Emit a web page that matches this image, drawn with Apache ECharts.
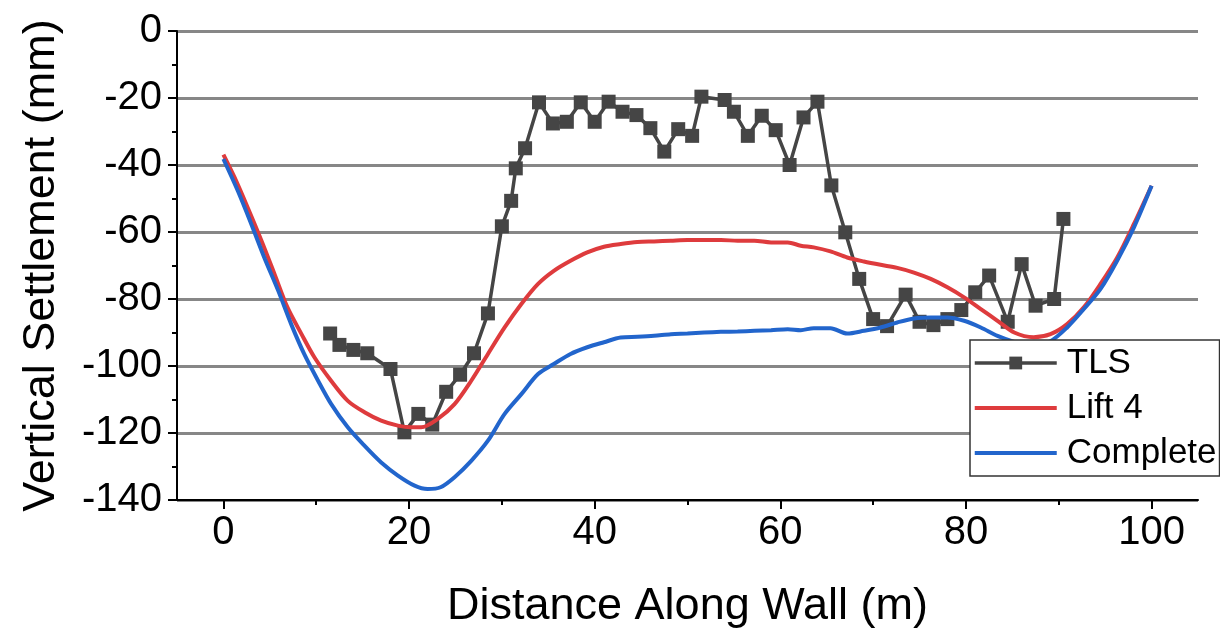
<!DOCTYPE html>
<html>
<head>
<meta charset="utf-8">
<title>Vertical Settlement Along Wall</title>
<script src="https://cdn.jsdelivr.net/npm/echarts@6/dist/echarts.min.js"></script>
<style>
  html, body { margin: 0; padding: 0; background: #ffffff; }
  #chart { width: 1220px; height: 641px; }
</style>
</head>
<body>
<div id="chart"></div>
<script>
// Distance along wall (m) and vertical settlement (mm)
const distTLS = [11.5, 12.5, 14.0, 15.5, 18.0, 19.5, 21.0, 22.5, 24.0, 25.5, 27.0, 28.5,
  30.0, 31.0, 31.5, 32.5, 34.0, 35.5, 37.0, 38.5, 40.0, 41.5, 43.0, 44.5, 46.0, 47.5,
  49.0, 50.5, 51.5, 54.0, 55.0, 56.5, 58.0, 59.5, 61.0, 62.5, 64.0, 65.5, 67.0, 68.5,
  70.0, 71.5, 73.5, 75.0, 76.5, 78.0, 79.5, 81.0, 82.5, 84.5, 86.0, 87.5, 89.5, 90.5];
const settleTLS = [-90.3, -93.7, -95.2, -96.2, -100.9, -119.8, -114.3, -117.5, -107.7, -102.6, -96.2, -84.3,
  -58.3, -50.7, -41.0, -35.0, -21.3, -27.6, -27.1, -21.3, -27.1, -21.1, -24.1, -25.1, -29.0, -36.0,
  -29.3, -31.3, -19.6, -20.6, -24.1, -31.3, -25.3, -29.6, -40.0, -25.8, -21.1, -46.1, -60.1, -74.0,
  -86.0, -88.1, -78.7, -86.8, -87.8, -86.0, -83.3, -78.0, -73.0, -86.8, -69.6, -82.0, -80.0, -56.1];

const distLift4 = [0, 1.2, 2.6, 4.1, 5.5, 6.9, 8.4, 9.8, 11.6, 13.4, 15.2, 17.0, 18.8, 20.2,
  21.3, 23.1, 24.9, 26.7, 28.5, 30.3, 32.1, 33.9, 35.6, 37.4, 39.2, 41.0, 42.8, 44.6,
  46.4, 48.2, 50.0, 51.8, 53.6, 55.4, 57.2, 59.0, 60.8, 62.2, 63.6, 65.4, 67.2, 69.0,
  70.8, 72.6, 74.4, 76.2, 78.0, 79.8, 81.6, 83.4, 85.2, 87.3, 89.1, 90.9, 92.7, 94.5,
  96.3, 98.1, 100];
const settleLift4 = [-36.9, -43.7, -52.6, -62.6, -72.5, -82.5, -90.4, -97.4, -104.4, -110.4, -113.8, -116.3, -117.8, -118.3,
  -118.3, -115.8, -111.4, -104.4, -96.4, -88.5, -81.5, -75.5, -71.6, -68.6, -66.1, -64.4, -63.6, -63.0,
  -62.8, -62.6, -62.4, -62.4, -62.4, -62.6, -62.6, -63.1, -63.1, -64.1, -64.6, -65.8, -67.6, -68.8,
  -69.8, -70.7, -72.1, -74.0, -76.5, -79.5, -83.0, -86.5, -90.0, -91.4, -90.5, -87.5, -82.5, -75.5,
  -67.6, -57.6, -46.2];

const distComplete = [0, 1.55, 3.0, 4.4, 5.9, 7.3, 8.7, 10.2, 11.6, 13.4, 15.2, 17.0, 18.8, 20.6,
  22.0, 23.4, 24.9, 26.7, 28.5, 30.3, 32.1, 33.9, 35.6, 37.4, 39.2, 41.0, 42.8, 44.6,
  46.4, 48.2, 50.0, 51.8, 53.6, 55.4, 57.2, 59.0, 60.8, 62.2, 63.6, 65.4, 67.2, 69.0,
  70.8, 72.6, 74.4, 76.2, 78.0, 79.8, 81.6, 83.4, 85.2, 87.0, 89.1, 90.9, 92.7, 94.5,
  96.3, 98.1, 100];
const settleComplete = [-38.2, -47.7, -57.6, -67.6, -77.5, -87.5, -96.4, -104.4, -111.3, -118.3, -123.8, -128.8, -132.7, -135.7,
  -136.7, -136.2, -133.2, -128.3, -122.3, -114.3, -108.4, -102.4, -99.4, -96.4, -94.4, -92.9, -91.5, -91.3,
  -91.0, -90.5, -90.3, -90.0, -89.8, -89.7, -89.5, -89.3, -89.0, -89.3, -88.7, -88.7, -90.3, -89.5,
  -88.5, -87.0, -85.8, -85.5, -85.5, -86.5, -88.5, -91.0, -92.8, -94.0, -92.6, -88.5, -83.0, -77.0,
  -68.5, -58.6, -46.2];

// Axis ticks
const xMajorTicks = [0, 20, 40, 60, 80, 100];
const xMinorTicks = [10, 30, 50, 70, 90];
const xRange = [-5, 105];
const yRange = [-140, 0];
const yStep = 20;

const seriesNames = ['TLS', 'Lift 4', 'Complete'];
const colors = { tls: '#454545', lift4: '#DE3B3D', complete: '#2265CC' };

function pairs(xs, ys) {
  return xs.map((x, i) => [x, ys[i]]);
}

const FONT = '"Liberation Sans", Arial, sans-serif';
const gridBox = { left: 177, right: 22, top: 31, bottom: 141 };
// plain bar used as the legend key for the curves without markers
const LINE_KEY = 'path://M0,0L80,0L80,4L0,4Z';

const chart = echarts.init(document.getElementById('chart'), null, { renderer: 'canvas' });

chart.setOption({
  backgroundColor: '#ffffff',
  animation: false,
  textStyle: { fontFamily: FONT },
  grid: [
    Object.assign({ containLabel: false }, gridBox),
    Object.assign({ containLabel: false }, gridBox)
  ],
  legend: {
    data: [
      { name: seriesNames[0], lineStyle: { width: 3.5 } },
      { name: seriesNames[1], icon: LINE_KEY },
      { name: seriesNames[2], icon: LINE_KEY }
    ],
    orient: 'vertical',
    left: 970,
    top: 340,
    padding: [3, 3, 3, 3],
    itemGap: 5,
    itemWidth: 82,
    itemHeight: 16,
    symbolKeepAspect: true,
    backgroundColor: '#ffffff',
    borderColor: '#333333',
    borderWidth: 1.5,
    borderRadius: 0,
    z: 20,
    textStyle: {
      fontFamily: FONT,
      fontSize: 35,
      lineHeight: 40,
      color: '#000000',
      padding: [0, 0, 0, 5]
    }
  },
  xAxis: [
    {
      type: 'value',
      gridIndex: 0,
      min: xRange[0],
      max: xRange[1],
      name: 'Distance Along Wall (m)',
      nameLocation: 'middle',
      nameGap: 84,
      nameTextStyle: { fontFamily: FONT, fontSize: 45, color: '#000000' },
      axisLine: { show: true, onZero: false, lineStyle: { color: '#000000', width: 2 } },
      axisTick: { show: true, inside: false, length: 9, customValues: xMajorTicks,
        lineStyle: { color: '#000000', width: 2 } },
      axisLabel: { show: true, customValues: xMajorTicks, margin: 13,
        fontFamily: FONT, fontSize: 40, color: '#000000' },
      splitLine: { show: false },
      minorTick: { show: false }
    },
    {
      type: 'value',
      gridIndex: 1,
      min: xRange[0],
      max: xRange[1],
      axisLine: { show: false, onZero: false },
      axisTick: { show: true, inside: false, length: 5, customValues: xMinorTicks,
        lineStyle: { color: '#000000', width: 2 } },
      axisLabel: { show: false },
      splitLine: { show: false }
    }
  ],
  yAxis: [
    {
      type: 'value',
      gridIndex: 0,
      min: yRange[0],
      max: yRange[1],
      interval: yStep,
      name: 'Vertical Settlement (mm)',
      nameLocation: 'middle',
      nameGap: 113,
      nameRotate: 90,
      nameTextStyle: { fontFamily: FONT, fontSize: 45, color: '#000000' },
      axisLine: { show: true, onZero: false, lineStyle: { color: '#000000', width: 2 } },
      axisTick: { show: true, inside: false, length: 9, lineStyle: { color: '#000000', width: 2 } },
      minorTick: { show: true, splitNumber: 2, length: 5, lineStyle: { color: '#000000', width: 2 } },
      axisLabel: { show: true, margin: 15, fontFamily: FONT, fontSize: 40, color: '#000000' },
      splitLine: { show: true, lineStyle: { color: '#878787', width: 3 } },
      minorSplitLine: { show: false }
    },
    {
      type: 'value',
      gridIndex: 1,
      min: yRange[0],
      max: yRange[1],
      show: false
    }
  ],
  series: [
    {
      name: seriesNames[0],
      type: 'line',
      xAxisIndex: 0,
      yAxisIndex: 0,
      data: pairs(distTLS, settleTLS),
      symbol: 'rect',
      symbolSize: 14,
      showSymbol: true,
      itemStyle: { color: colors.tls },
      lineStyle: { color: colors.tls, width: 3.5 },
      z: 2
    },
    {
      name: seriesNames[1],
      type: 'line',
      xAxisIndex: 0,
      yAxisIndex: 0,
      data: pairs(distLift4, settleLift4),
      symbol: 'none',
      smooth: 0.3,
      itemStyle: { color: colors.lift4 },
      lineStyle: { color: colors.lift4, width: 4 },
      z: 3
    },
    {
      name: seriesNames[2],
      type: 'line',
      xAxisIndex: 0,
      yAxisIndex: 0,
      data: pairs(distComplete, settleComplete),
      symbol: 'none',
      smooth: 0.3,
      itemStyle: { color: colors.complete },
      lineStyle: { color: colors.complete, width: 4 },
      z: 4
    }
  ]
});
</script>
</body>
</html>
